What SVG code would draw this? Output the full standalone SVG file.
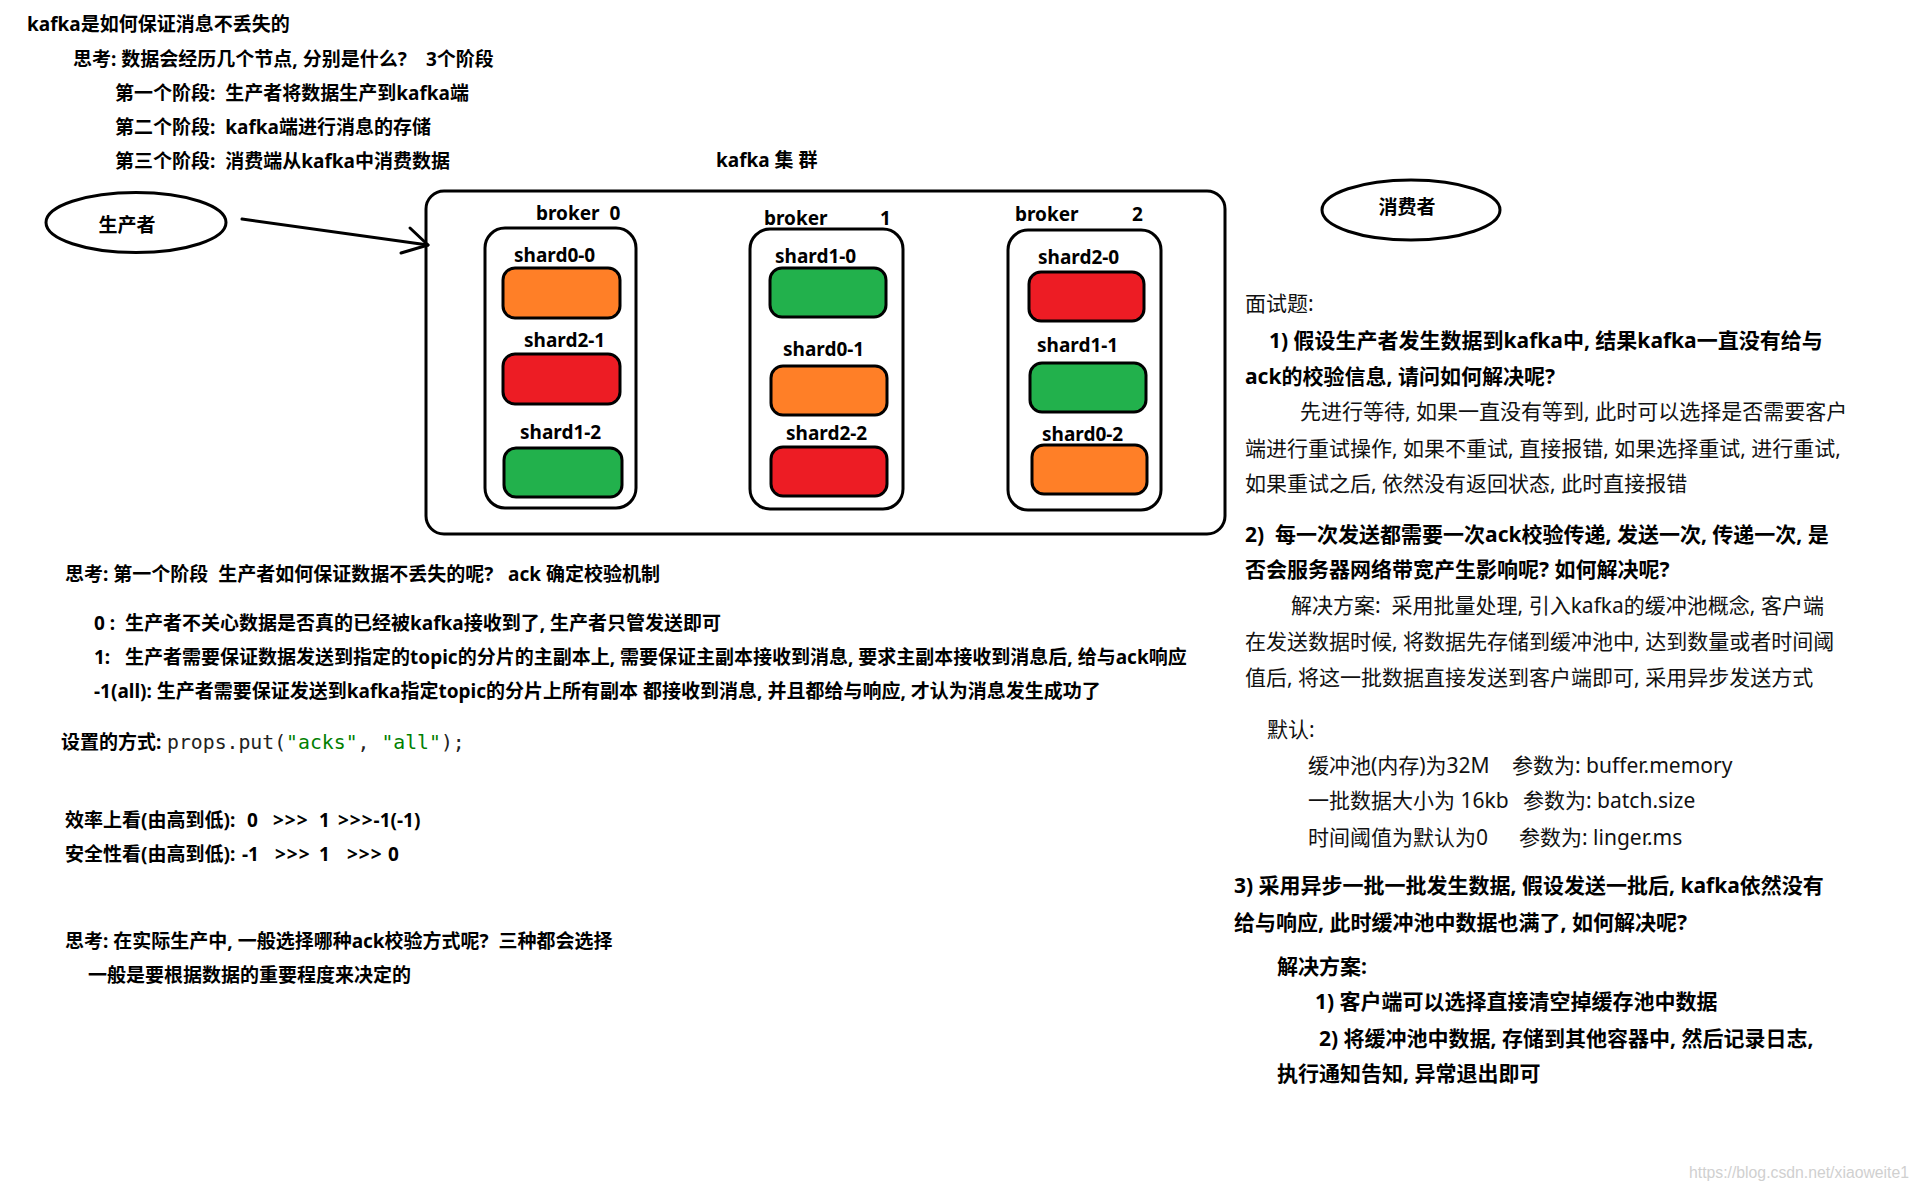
<svg xmlns="http://www.w3.org/2000/svg" width="1919" height="1191" viewBox="0 0 1919 1191" xml:space="preserve">
<style>
text { white-space: pre; }
.b { font-family: "Noto Sans", "Noto Sans CJK SC", sans-serif; font-weight: 700; font-size: 19px; fill: #000; }
.b21 { font-family: "Noto Sans", "Noto Sans CJK SC", sans-serif; font-weight: 700; font-size: 21px; fill: #000; }
.r21 { font-family: "Noto Sans", "Noto Sans CJK SC", sans-serif; font-weight: 400; font-size: 21px; fill: #111; }
.mono { font-family: "DejaVu Sans Mono", "Liberation Mono", monospace; font-size: 19.8px; fill: #222; font-weight: 400; }
.str { fill: #008000; }
.gt { letter-spacing: 1px; }
.line { fill: none; stroke: #000; stroke-width: 3; stroke-linecap: round; stroke-linejoin: round; }
.box { fill: #fff; stroke: #000; stroke-width: 3; }
.orange { fill: #FF7F27; stroke: #000; stroke-width: 3; }
.red { fill: #ED1C24; stroke: #000; stroke-width: 3; }
.green { fill: #22B14C; stroke: #000; stroke-width: 3; }
.wm { font-family: "Liberation Sans", sans-serif; font-size: 16px; fill: #d0d0d0; }
</style>
<rect width="1919" height="1191" fill="#fff"/>

<g id="intro">
<text class="b" x="27" y="31">kafka是如何保证消息不丢失的</text>
<text class="b" x="73" y="66">思考: 数据会经历几个节点, 分别是什么?   <tspan x="426">3个阶段</tspan></text>
<text class="b" x="115" y="100">第一个阶段:  生产者将数据生产到kafka端</text>
<text class="b" x="115" y="134">第二个阶段:  kafka端进行消息的存储</text>
<text class="b" x="115" y="168">第三个阶段:  消费端从kafka中消费数据</text>
</g>

<g id="producer">
<ellipse cx="136" cy="222.5" rx="90" ry="30" class="box"/>
<text class="b" x="127" y="232" text-anchor="middle">生产者</text>
</g>

<g id="consumer">
<ellipse cx="1411" cy="210" rx="89" ry="30" class="box"/>
<text class="b" x="1407" y="214" text-anchor="middle">消费者</text>
</g>

<g id="kafka-cluster">
<text class="b" x="716" y="167">kafka 集 群</text>
<rect x="426" y="191" width="799" height="343" rx="18" class="box"/>
</g>

<g id="broker0">
<text class="b" x="536" y="220">broker  0</text>
<rect x="485" y="228" width="151" height="280" rx="20" class="box"/>
<g id="shard0-0"><text class="b" x="514" y="262">shard0-0</text><rect x="503" y="268" width="117" height="50" rx="12" class="orange"/></g>
<g id="shard2-1"><text class="b" x="524" y="347">shard2-1</text><rect x="503" y="354" width="117" height="50" rx="12" class="red"/></g>
<g id="shard1-2"><text class="b" x="520" y="439">shard1-2</text><rect x="504" y="448" width="118" height="49" rx="12" class="green"/></g>
</g>

<g id="broker1">
<text class="b" x="764" y="225">broker</text><text class="b" x="880" y="225">1</text>
<rect x="750" y="229" width="153" height="280" rx="20" class="box"/>
<g id="shard1-0"><text class="b" x="775" y="263">shard1-0</text><rect x="770" y="268" width="116" height="49" rx="12" class="green"/></g>
<g id="shard0-1"><text class="b" x="783" y="356">shard0-1</text><rect x="771" y="366" width="116" height="49" rx="12" class="orange"/></g>
<g id="shard2-2"><text class="b" x="786" y="440">shard2-2</text><rect x="771" y="447" width="116" height="49" rx="12" class="red"/></g>
</g>

<g id="broker2">
<text class="b" x="1015" y="221">broker</text><text class="b" x="1132" y="221">2</text>
<rect x="1008" y="230" width="153" height="280" rx="20" class="box"/>
<g id="shard2-0"><text class="b" x="1038" y="264">shard2-0</text><rect x="1029" y="272" width="115" height="49" rx="12" class="red"/></g>
<g id="shard1-1"><text class="b" x="1037" y="352">shard1-1</text><rect x="1030" y="363" width="116" height="49" rx="12" class="green"/></g>
<g id="shard0-2"><text class="b" x="1042" y="441">shard0-2</text><rect x="1032" y="445" width="115" height="49" rx="12" class="orange"/></g>
</g>

<g id="connectors">
<path class="line" d="M242,219 L428,245"/>
<path class="line" d="M410,228 L428,245 L401,253"/>
</g>

<g id="ack-notes">
<text class="b" x="65" y="581">思考: 第一个阶段  生产者如何保证数据不丢失的呢?   ack 确定校验机制</text>
<text class="b" x="94" y="630">0 :  生产者不关心数据是否真的已经被kafka接收到了, 生产者只管发送即可</text>
<text class="b" x="94" y="664">1:   生产者需要保证数据发送到指定的topic的分片的主副本上, 需要保证主副本接收到消息, 要求主副本接收到消息后, 给与ack响应</text>
<text class="b" x="94" y="698">-1(all): 生产者需要保证发送到kafka指定topic的分片上所有副本 都接收到消息, 并且都给与响应, 才认为消息发生成功了</text>
<text class="b" x="61" y="749">设置的方式: <tspan class="mono" x="167">props.put(<tspan class="str">"acks"</tspan>, <tspan class="str">"all"</tspan>);</tspan></text>
<text class="b" x="65" y="827">效率上看(由高到低):  <tspan x="247">0</tspan>  <tspan x="273" class="gt">&gt;&gt;&gt;</tspan> <tspan x="319">1</tspan> <tspan x="338"><tspan class="gt">&gt;&gt;&gt;</tspan>-1(-1)</tspan></text>
<text class="b" x="65" y="861">安全性看(由高到低): <tspan x="242">-1</tspan>  <tspan x="275" class="gt">&gt;&gt;&gt;</tspan> <tspan x="319">1</tspan>  <tspan x="347" class="gt">&gt;&gt;&gt;</tspan> <tspan x="388">0</tspan></text>
<text class="b" x="65" y="948">思考: 在实际生产中, 一般选择哪种ack校验方式呢?  三种都会选择</text>
<text class="b" x="88" y="982">一般是要根据数据的重要程度来决定的</text>
</g>

<g id="interview">
<text class="r21" x="1245" y="311">面试题:</text>
<text class="b21" x="1269" y="348">1) 假设生产者发生数据到kafka中, 结果kafka一直没有给与</text>
<text class="b21" x="1245" y="384">ack的校验信息, 请问如何解决呢?</text>
<text class="r21" x="1300" y="419">先进行等待, 如果一直没有等到, 此时可以选择是否需要客户</text>
<text class="r21" x="1245" y="456">端进行重试操作, 如果不重试, 直接报错, 如果选择重试, 进行重试,</text>
<text class="r21" x="1245" y="491">如果重试之后, 依然没有返回状态, 此时直接报错</text>
<text class="b21" x="1245" y="542">2)  每一次发送都需要一次ack校验传递, 发送一次, 传递一次, 是</text>
<text class="b21" x="1245" y="577">否会服务器网络带宽产生影响呢? 如何解决呢?</text>
<text class="r21" x="1291" y="613">解决方案:  采用批量处理, 引入kafka的缓冲池概念, 客户端</text>
<text class="r21" x="1245" y="649">在发送数据时候, 将数据先存储到缓冲池中, 达到数量或者时间阈</text>
<text class="r21" x="1245" y="685">值后, 将这一批数据直接发送到客户端即可, 采用异步发送方式</text>
<text class="r21" x="1267" y="737">默认:</text>
<text class="r21" x="1308" y="773">缓冲池(内存)为32M<tspan x="1512">参数为: buffer.memory</tspan></text>
<text class="r21" x="1308" y="808">一批数据大小为 16kb<tspan x="1523">参数为: batch.size</tspan></text>
<text class="r21" x="1308" y="845">时间阈值为默认为0<tspan x="1519">参数为: linger.ms</tspan></text>
<text class="b21" x="1234" y="893">3) 采用异步一批一批发生数据, 假设发送一批后, kafka依然没有</text>
<text class="b21" x="1234" y="930">给与响应, 此时缓冲池中数据也满了, 如何解决呢?</text>
<text class="b21" x="1277" y="974">解决方案:</text>
<text class="b21" x="1315" y="1009">1) 客户端可以选择直接清空掉缓存池中数据</text>
<text class="b21" x="1319" y="1046">2) 将缓冲池中数据, 存储到其他容器中, 然后记录日志,</text>
<text class="b21" x="1277" y="1081">执行通知告知, 异常退出即可</text>
</g>

<text class="wm" x="1689" y="1178" textLength="220" lengthAdjust="spacingAndGlyphs">https://blog.csdn.net/xiaoweite1</text>
</svg>
